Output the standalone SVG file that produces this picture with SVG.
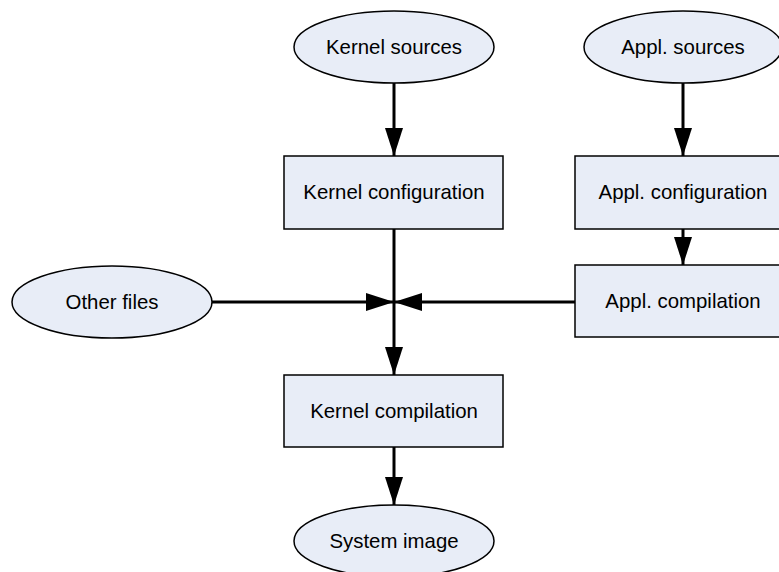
<svg xmlns="http://www.w3.org/2000/svg" width="779" height="572" viewBox="0 0 779 572">
<defs>
<marker id="ah" viewBox="0 0 28 18" refX="28" refY="9" markerWidth="28" markerHeight="18" markerUnits="userSpaceOnUse" orient="auto">
<path d="M0,0 L28,9 L0,18 Z" fill="#000"/>
</marker>
<style>
.n{fill:#e8edf7;stroke:#000;stroke-width:1.5}
.t{font-family:"Liberation Sans",Arial,sans-serif;font-size:20.4px;fill:#000;text-anchor:middle;dominant-baseline:central}
.c{stroke:#000;stroke-width:3;fill:none}
</style>
</defs>
<rect width="779" height="572" fill="#fff"/>
<g id="connectors">
<line class="c" x1="394" y1="83" x2="394" y2="156" marker-end="url(#ah)"/>
<line class="c" x1="683" y1="83" x2="683" y2="156" marker-end="url(#ah)"/>
<line class="c" x1="683" y1="229" x2="683" y2="265" marker-end="url(#ah)"/>
<line class="c" x1="394" y1="229" x2="394" y2="375" marker-end="url(#ah)"/>
<line class="c" x1="212" y1="302" x2="394" y2="302" marker-end="url(#ah)"/>
<line class="c" x1="575" y1="302" x2="394" y2="302" marker-end="url(#ah)"/>
<line class="c" x1="394" y1="447" x2="394" y2="505" marker-end="url(#ah)"/>
</g>
<g id="kernel-sources"><ellipse class="n" cx="394" cy="47" rx="100" ry="36"/><text class="t" x="394" y="47">Kernel sources</text></g>
<g id="appl-sources"><ellipse class="n" cx="683" cy="47" rx="99" ry="36"/><text class="t" x="683" y="47">Appl. sources</text></g>
<g id="kernel-configuration"><rect class="n" x="284" y="156" width="219" height="73"/><text class="t" x="394" y="192">Kernel configuration</text></g>
<g id="appl-configuration"><rect class="n" x="575" y="156" width="217" height="73"/><text class="t" x="683" y="192">Appl. configuration</text></g>
<g id="appl-compilation"><rect class="n" x="575" y="265" width="217" height="72"/><text class="t" x="683" y="301">Appl. compilation</text></g>
<g id="other-files"><ellipse class="n" cx="112" cy="302" rx="100" ry="36"/><text class="t" x="112" y="302">Other files</text></g>
<g id="kernel-compilation"><rect class="n" x="284" y="375" width="219" height="72"/><text class="t" x="394" y="411">Kernel compilation</text></g>
<g id="system-image"><ellipse class="n" cx="394" cy="541" rx="100" ry="36"/><text class="t" x="394" y="541">System image</text></g>
</svg>
